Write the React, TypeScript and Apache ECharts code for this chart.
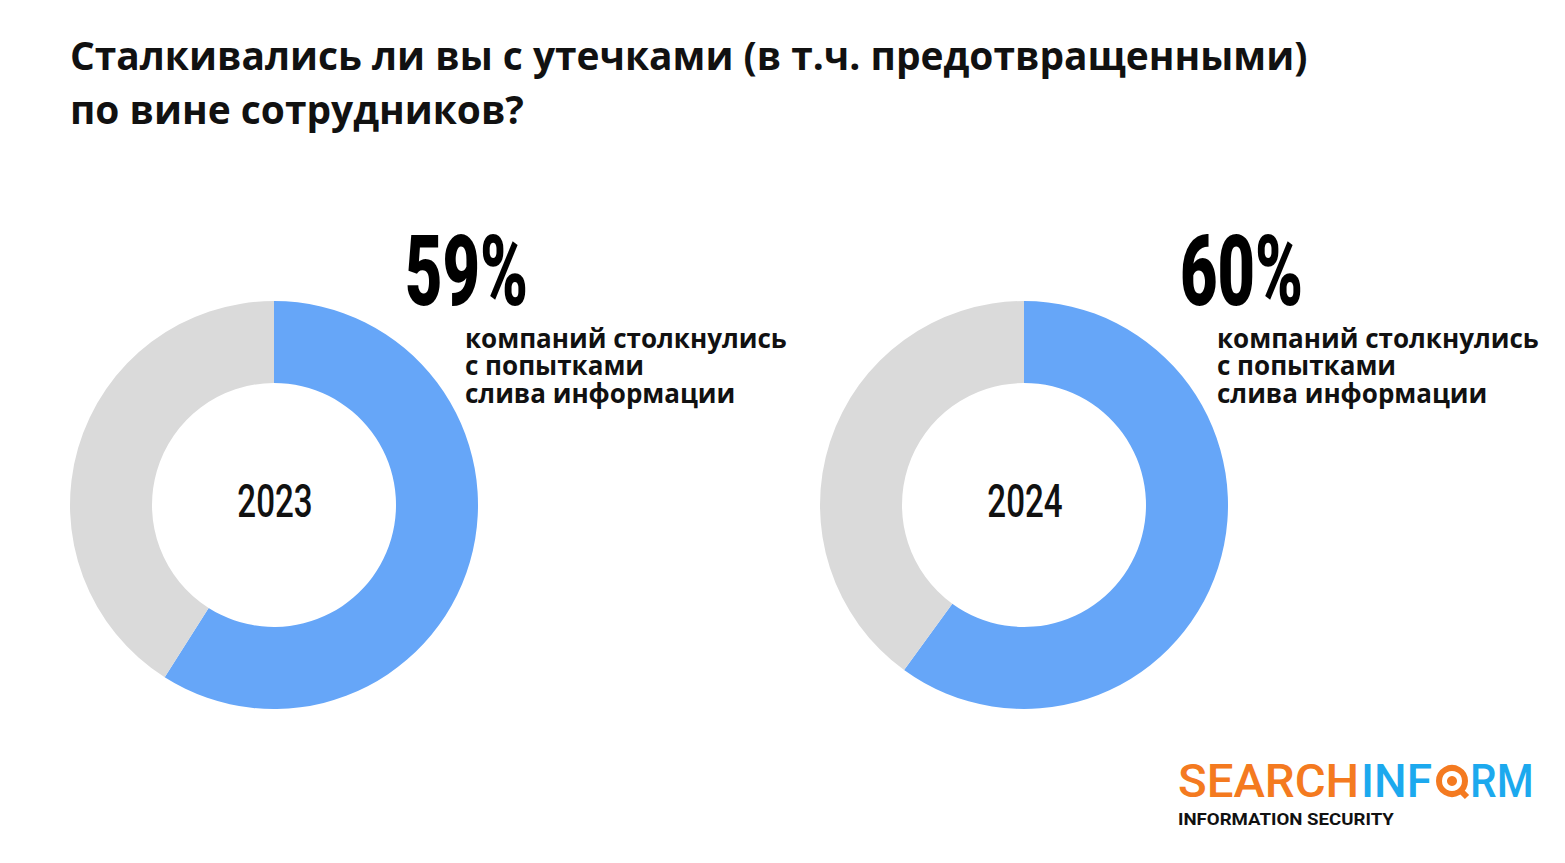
import React, { useEffect, useRef } from "react";
import * as echarts from "echarts";

const titleLines = [
  "Сталкивались ли вы с утечками (в т.ч. предотвращенными)",
  "по вине сотрудников?",
];
const years = ["2023", "2024"];
const leakShare = [59, 60];
const captionLines = ["компаний столкнулись", "с попытками", "слива информации"];
const sliceNames = ["Сталкивались", "Не сталкивались"];
const blue = "#66A6F8";
const grey = "#DADADA";

export default function App() {
  const ref = useRef<HTMLDivElement>(null);
  useEffect(() => {
    document.body.style.margin = "0";
    const chart = echarts.init(ref.current!, null, { renderer: "svg" });
    const centers = [274, 1024];
    const series: any[] = leakShare.map((v, i) => ({
      type: "pie",
      center: [centers[i], 505],
      radius: [122, 204],
      startAngle: 90,
      clockwise: true,
      silent: true,
      label: { show: false },
      labelLine: { show: false },
      data: [
        { value: v, name: sliceNames[0], itemStyle: { color: blue } },
        { value: 100 - v, name: sliceNames[1], itemStyle: { color: grey } },
      ],
    }));

    const graphics: any[] = [];
    graphics.push({
      type: "text",
      x: 70,
      y: 27,
      style: {
        text: titleLines.join("\n"),
        font: "bold 38.9px 'Open Sans'",
        lineHeight: 54,
        fill: "#111",
        align: "left",
        verticalAlign: "top",
      },
    });
    const numX = [405, 1180];
    const capX = [465, 1217];
    leakShare.forEach((v, i) => {
      graphics.push({
        type: "text",
        x: numX[i],
        y: 271,
        scaleX: 0.66,
        style: {
          text: `${v}%`,
          font: "900 98px Roboto",
          fill: "#000",
          align: "left",
          verticalAlign: "middle",
        },
      });
      graphics.push({
        type: "text",
        x: capX[i],
        y: 324,
        style: {
          text: captionLines.join("\n"),
          font: "bold 26px 'Open Sans'",
          lineHeight: 27.5,
          fill: "#111",
          align: "left",
          verticalAlign: "top",
        },
      });
      graphics.push({
        type: "text",
        x: centers[i] + 1,
        y: 502,
        scaleX: 0.72,
        style: {
          text: years[i],
          font: "500 46px Roboto",
          fill: "#111",
          align: "center",
          verticalAlign: "middle",
        },
      });
    });

    // logo
    const orange = "#F47A20";
    const lblue = "#1CA9EE";
    graphics.push(
      {
        type: "text",
        x: 1178,
        y: 781,
        scaleX: 1.03,
        style: {
          text: "SEARCH",
          font: "500 46px Roboto",
          fill: orange,
          verticalAlign: "middle",
        },
      },
      {
        type: "text",
        x: 1361,
        y: 781,
        style: { text: "INF", font: "500 46px Roboto", fill: lblue, verticalAlign: "middle" },
      },
      {
        type: "circle",
        shape: { cx: 1452, cy: 781, r: 13 },
        style: { fill: "none", stroke: orange, lineWidth: 6 },
      },
      {
        type: "circle",
        shape: { cx: 1452, cy: 781, r: 5 },
        style: { fill: orange },
      },
      {
        type: "line",
        shape: { x1: 1460, y1: 790, x2: 1467, y2: 797 },
        style: { stroke: orange, lineWidth: 6 },
      },
      {
        type: "text",
        x: 1470,
        y: 781,
        scaleX: 0.92,
        style: { text: "RM", font: "500 46px Roboto", fill: lblue, verticalAlign: "middle" },
      },
      {
        type: "text",
        x: 1178,
        y: 819,
        scaleX: 1.13,
        style: {
          text: "INFORMATION SECURITY",
          font: "bold 16.5px Roboto",
          fill: "#111",
          verticalAlign: "middle",
        },
      }
    );

    chart.setOption({
      animation: false,
      backgroundColor: "#fff",
      series,
      graphic: graphics,
    });
    return () => chart.dispose();
  }, []);
  return <div ref={ref} style={{ width: 1565, height: 863 }} />;
}
